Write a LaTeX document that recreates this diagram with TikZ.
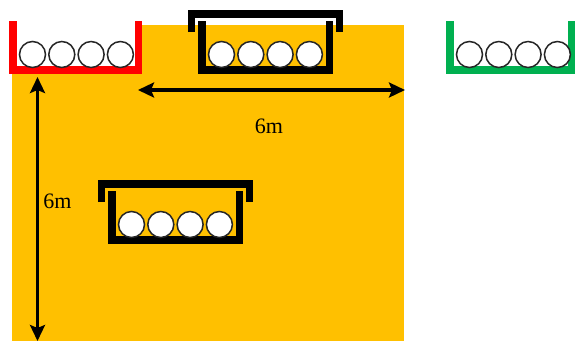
\documentclass[tikz,border=0pt]{standalone}
\usepackage{fontspec}
\setmainfont{Liberation Serif}
\usetikzlibrary{arrows.meta}

\definecolor{gold}{HTML}{FFC000}
\definecolor{trayred}{HTML}{FF0000}
\definecolor{traygreen}{HTML}{00B050}

\begin{document}
\begin{tikzpicture}[x=1pt,y=-1pt,>={Stealth[length=16pt,width=15pt,inset=3pt]},
  wall/.style={line width=7.5pt,line join=miter},
  ball/.style={draw=black!85,fill=white,line width=1.5pt},
  dim/.style={<->,line width=3.2pt},
  len/.style={font=\fontsize{22}{24}\selectfont},
  pics/tray/.style n args={3}{code={
    \filldraw[wall,draw=#1,fill=#3] (3.75,0) -- (3.75,48.75) -- (#2-3.75,48.75) -- (#2-3.75,0);
    \foreach \i in {0,...,3}
      \draw[ball] (23.5+29.3*\i,33.5) circle (13);}},
  pics/lid/.style={code={
    \draw[wall] (-6.5,11) -- (-6.5,-7) -- (141.5,-7) -- (141.5,11);}}]

\useasboundingbox (0,0) rectangle (575,341);
\fill[gold] (12,25) rectangle (404,341);

% trays
\pic at (9,21)    {tray={trayred}{133}{white}};
\pic at (446,21)  {tray={traygreen}{129}{white}};
\pic at (198,21)  {tray={black}{135}{none}};
\pic at (198,21)  {lid};
\pic at (108,191) {tray={black}{135}{none}};
\pic at (108,191) {lid};

% dimensions
\coordinate (wl) at (138,90);
\coordinate (wr) at (405,90);
\coordinate (ht) at (37.5,77);
\coordinate (hb) at (37.5,341);
\draw[dim] (wl) -- (wr);
\draw[dim] (ht) -- (hb);
\node[len] (wlab) at (269,126) {6m};
\node[len] (hlab) at (57.5,201) {6m};
\end{tikzpicture}
\end{document}
